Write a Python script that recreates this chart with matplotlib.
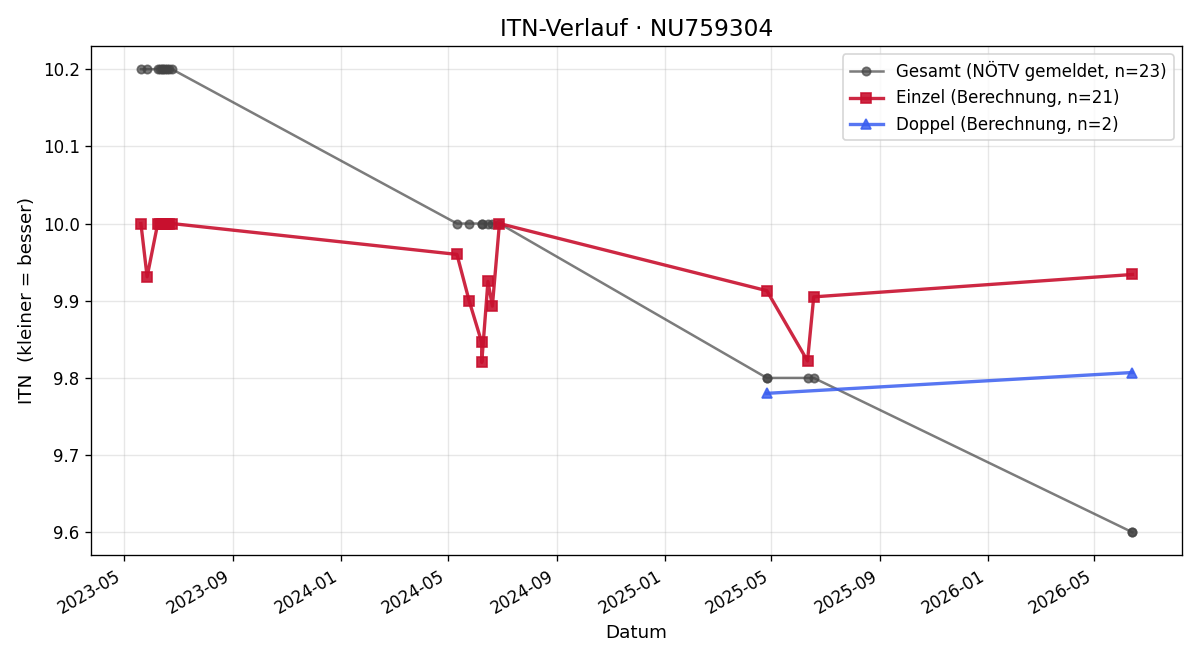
import matplotlib
matplotlib.use("Agg")
import matplotlib.pyplot as plt
import matplotlib.dates as mdates
import pandas as pd

einzel_dates = ["2023-05-20", "2023-05-27", "2023-06-08", "2023-06-10", "2023-06-13",
                "2023-06-14", "2023-06-16", "2023-06-18", "2023-06-21", "2023-06-24",
                "2024-05-11", "2024-05-25", "2024-06-08", "2024-06-08", "2024-06-15",
                "2024-06-20", "2024-06-28",
                "2025-04-26", "2025-06-11", "2025-06-18",
                "2026-06-13"]
einzel_itn = [10.0, 9.931, 10.0, 10.0, 10.0, 10.0, 10.0, 10.0, 10.0, 10.0,
              9.960, 9.899, 9.846, 9.820, 9.925, 9.893, 10.0,
              9.913, 9.822, 9.905,
              9.934]

doppel_dates = ["2025-04-26", "2026-06-13"]
doppel_itn = [9.780, 9.807]

gesamt_dates = ["2023-05-20", "2023-05-27", "2023-06-08", "2023-06-10", "2023-06-13",
                "2023-06-14", "2023-06-16", "2023-06-18", "2023-06-21", "2023-06-24",
                "2024-05-11", "2024-05-25", "2024-06-08", "2024-06-08", "2024-06-15",
                "2024-06-20", "2024-06-28",
                "2025-04-26", "2025-04-26", "2025-06-11", "2025-06-18",
                "2026-06-13", "2026-06-13"]
gesamt_itn = [10.2] * 10 + [10.0] * 7 + [9.8] * 4 + [9.6] * 2

fig, ax = plt.subplots(figsize=(10, 5.5), dpi=120)

ax.plot(pd.to_datetime(gesamt_dates), gesamt_itn, marker="o", color="#444444",
        alpha=0.7, linewidth=1.5, markersize=5,
        label=f"Gesamt (NÖTV gemeldet, n={len(gesamt_itn)})")
ax.plot(pd.to_datetime(einzel_dates), einzel_itn, marker="s", color="#c8102e",
        alpha=0.9, linewidth=2, markersize=6,
        label=f"Einzel (Berechnung, n={len(einzel_itn)})")
ax.plot(pd.to_datetime(doppel_dates), doppel_itn, marker="^", color="#3a5ef0",
        alpha=0.85, linewidth=2, markersize=6,
        label=f"Doppel (Berechnung, n={len(doppel_itn)})")

ax.set_title("ITN-Verlauf · NU759304", fontsize=14)
ax.set_xlabel("Datum", fontsize=11)
ax.set_ylabel("ITN  (kleiner = besser)", fontsize=11)
ax.grid(True, alpha=0.3)
ax.xaxis.set_major_locator(mdates.MonthLocator(bymonth=[1, 5, 9]))
ax.xaxis.set_major_formatter(mdates.DateFormatter("%Y-%m"))
ax.legend(loc="upper right")
fig.autofmt_xdate()
fig.tight_layout()
fig.savefig("out.png")
